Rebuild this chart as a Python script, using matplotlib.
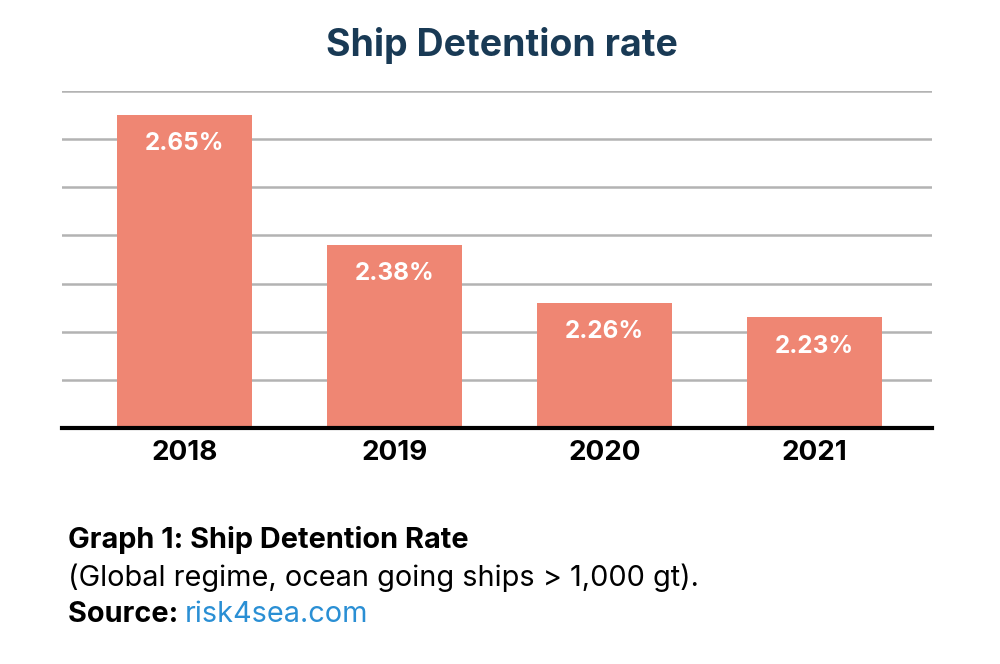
import matplotlib
matplotlib.use("Agg")
import matplotlib.pyplot as plt
import numpy as np

# chart data
years = ["2018", "2019", "2020", "2021"]
rates = [2.65, 2.38, 2.26, 2.23]
y_ticks = [2.0, 2.1, 2.2, 2.3, 2.4, 2.5, 2.6, 2.7]

BAR_COLOR = "#EF8673"
TITLE_COLOR = "#193A55"
LINK_COLOR = "#2A8FD4"
GRID_COLOR = "#B3B3B3"

plt.rcParams["font.family"] = ["Inter", "DejaVu Sans"]

fig = plt.figure(figsize=(10, 6.64), dpi=100)
# axes spans from top gridline (y=91px) to baseline (y=428px)
ax = fig.add_axes([0.062, 1 - 428 / 664, 0.870, (428 - 91) / 664])

x = np.arange(len(years))
bars = ax.bar(x, rates, width=0.643, color=BAR_COLOR, zorder=3)

ax.set_ylim(y_ticks[0], y_ticks[-1])
ax.set_xlim(-0.583, len(years) - 1 + 0.559)
ax.set_yticks(y_ticks)
ax.yaxis.grid(True, color=GRID_COLOR, linewidth=1.8, zorder=0)
ax.tick_params(axis="y", length=0, labelleft=False)
ax.tick_params(axis="x", length=0, pad=9)
ax.set_xticks(x)
ax.set_xticklabels(years, fontsize=20, fontweight="bold", color="black")

for side in ("top", "left", "right"):
    ax.spines[side].set_visible(False)
ax.spines["bottom"].set_linewidth(3)
ax.spines["bottom"].set_color("black")
ax.spines["bottom"].set_zorder(4)

for b, v in zip(bars, rates):
    ax.text(b.get_x() + b.get_width() / 2, v - 0.06, f"{v:.2f}%",
            ha="center", va="center", color="white",
            fontsize=17.5, fontweight="bold", zorder=5)

fig.text(0.502, 1 - 45 / 664, "Ship Detention rate", ha="center", va="center",
         fontsize=27, fontweight="bold", color=TITLE_COLOR)

FOOT = 20.8
fig.text(0.068, 1 - 540 / 664, "Graph 1: Ship Detention Rate", ha="left",
         va="center", fontsize=FOOT, fontweight="bold", color="black")
fig.text(0.068, 1 - 578 / 664, "(Global regime, ocean going ships > 1,000 gt).",
         ha="left", va="center", fontsize=FOOT, color="black")
src = fig.text(0.068, 1 - 615 / 664, "Source: ", ha="left", va="center",
               fontsize=FOOT, fontweight="bold", color="black")
fig.canvas.draw()
bb = src.get_window_extent()
fig.text(bb.x1 / fig.bbox.width, 1 - 615 / 664, "risk4sea.com", ha="left",
         va="center", fontsize=FOOT, color=LINK_COLOR)

fig.savefig("out.png", dpi=100)
